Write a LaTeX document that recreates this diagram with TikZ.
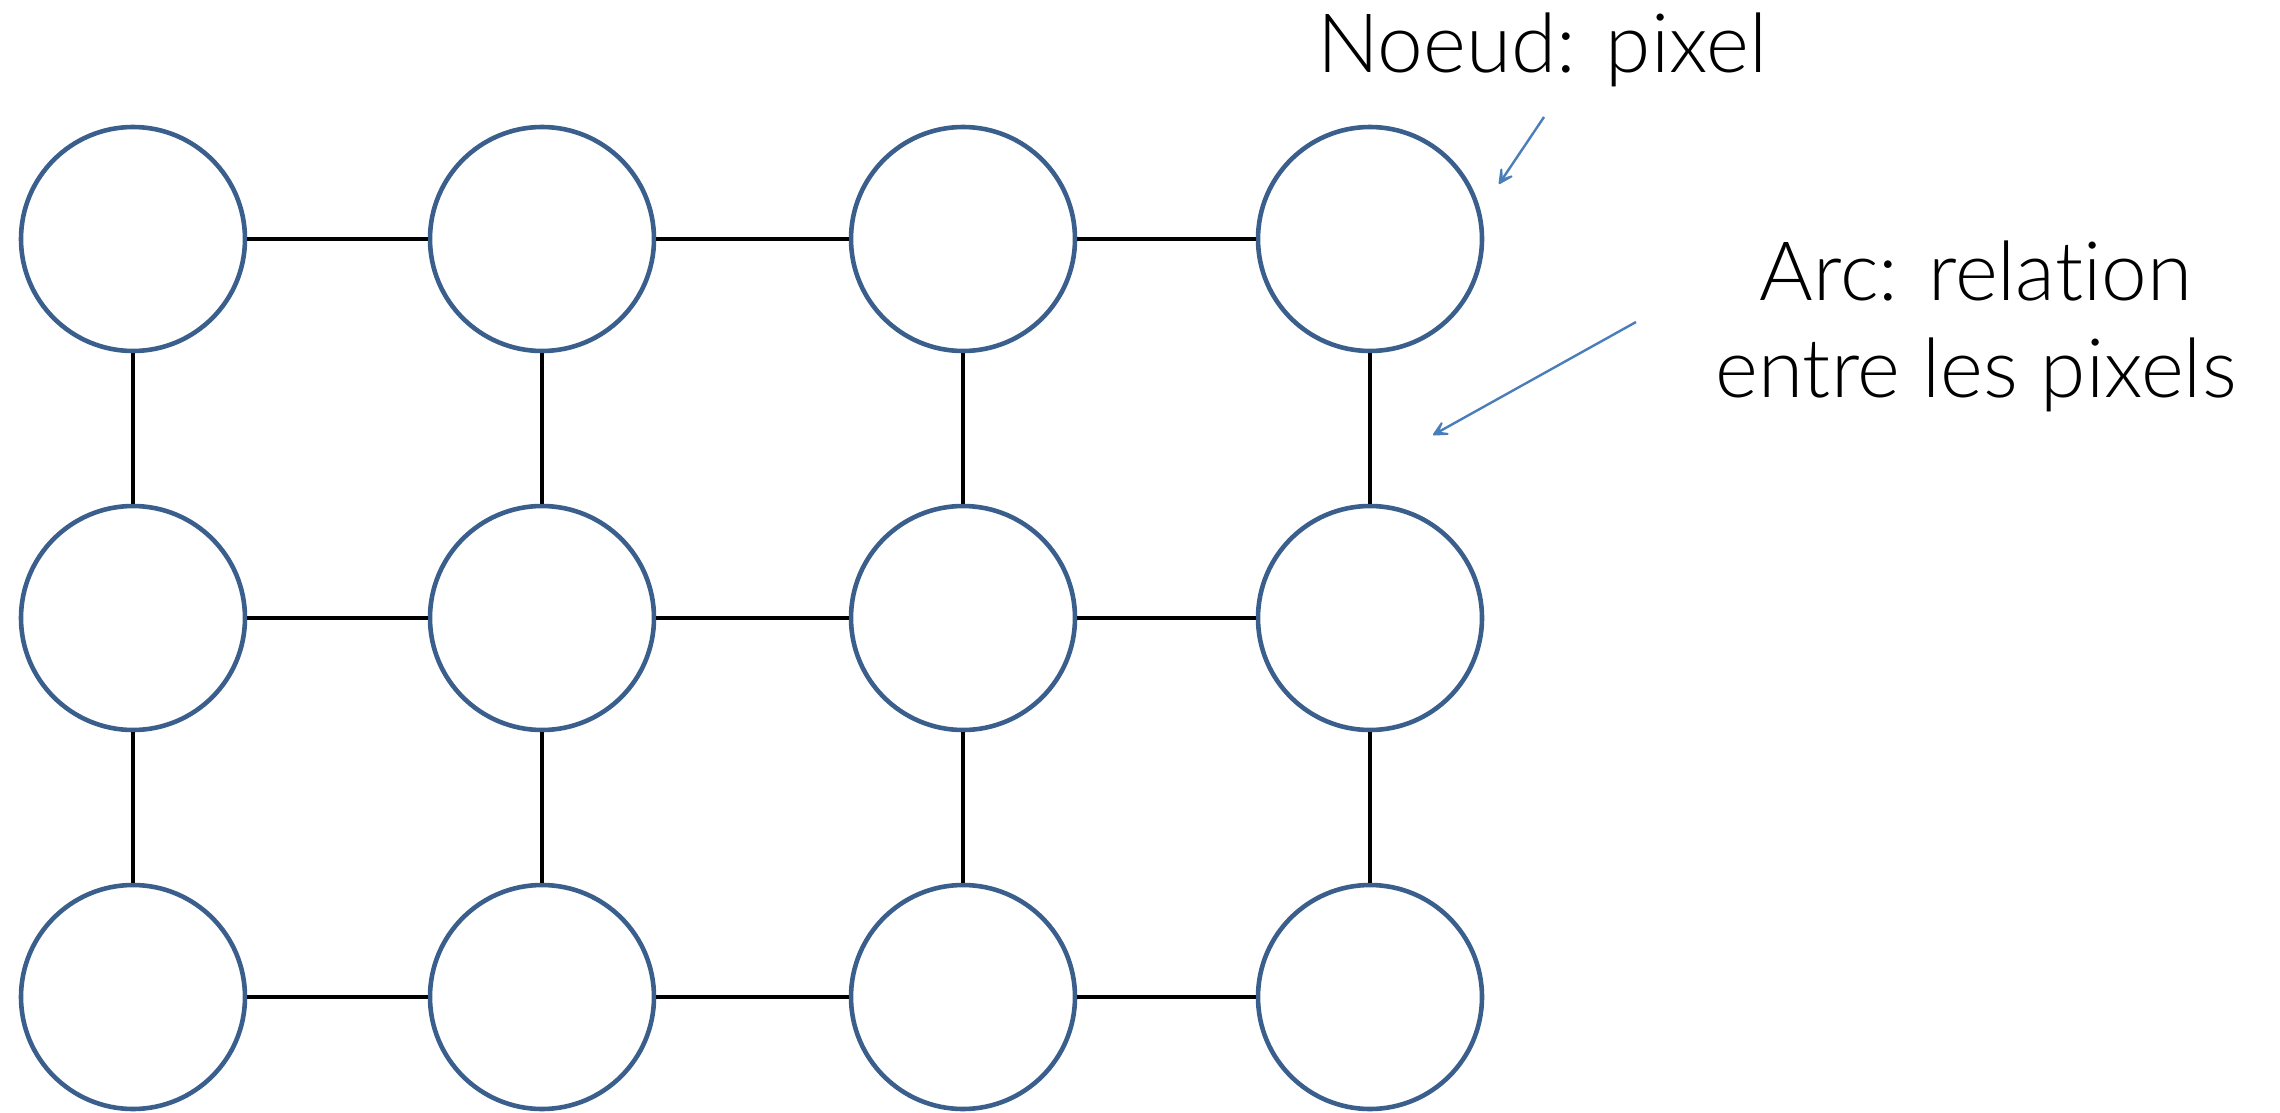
\documentclass[tikz,border=0pt]{standalone}
\usepackage{fontspec}
\IfFontExistsTF{Lato Light}{\setmainfont[Ligatures=NoCommon]{Lato Light}}{\setmainfont{Liberation Sans}}
\usetikzlibrary{arrows.meta}
\definecolor{nodeblue}{HTML}{3B5F8C}
\definecolor{arrowblue}{HTML}{4A7EBB}
\tikzset{
  pix/.style={circle, draw=nodeblue, line width=2.3pt, minimum size=112pt, inner sep=0pt, fill=white},
  rel/.style={black, line width=2pt},
  callout/.style={arrowblue, line width=1.2pt, -{Stealth[length=12pt,width=12pt,inset=8pt,round]}},
  lbl/.style={inner sep=0pt, anchor=base, font=\fontsize{41}{48}\selectfont}
}
\begin{document}
\begin{tikzpicture}[x=0.5pt,y=-0.5pt]
\useasboundingbox (0,0) rectangle (2280,1113);
% nodes
\foreach \c/\x in {1/133,2/542,3/963,4/1370}{
  \foreach \r/\y in {1/239,2/618,3/997}{
    \node[pix] (n\r\c) at (\x,\y) {};
  }
}
% horizontal relations
\foreach \r in {1,2,3}{
  \draw[rel] (n\r1) -- (n\r2);
  \draw[rel] (n\r2) -- (n\r3);
  \draw[rel] (n\r3) -- (n\r4);
}
% vertical relations
\foreach \c in {1,2,3,4}{
  \draw[rel] (n1\c) -- (n2\c);
  \draw[rel] (n2\c) -- (n3\c);
}
% labels
\node[lbl] (noeud) at (1542,73) {Noeud: pixel};
\node[lbl] (arc1) at (1976,300) {Arc: relation};
\node[lbl] (arc2) at (1976,397) {entre les pixels};
% callout arrows
\coordinate (a1s) at (1544,117);
\coordinate (a1e) at (1499,184);
\coordinate (a2s) at (1636,322);
\coordinate (a2e) at (1433,435);
\draw[callout] (a1s) -- (a1e);
\draw[callout] (a2s) -- (a2e);
\end{tikzpicture}
\end{document}
